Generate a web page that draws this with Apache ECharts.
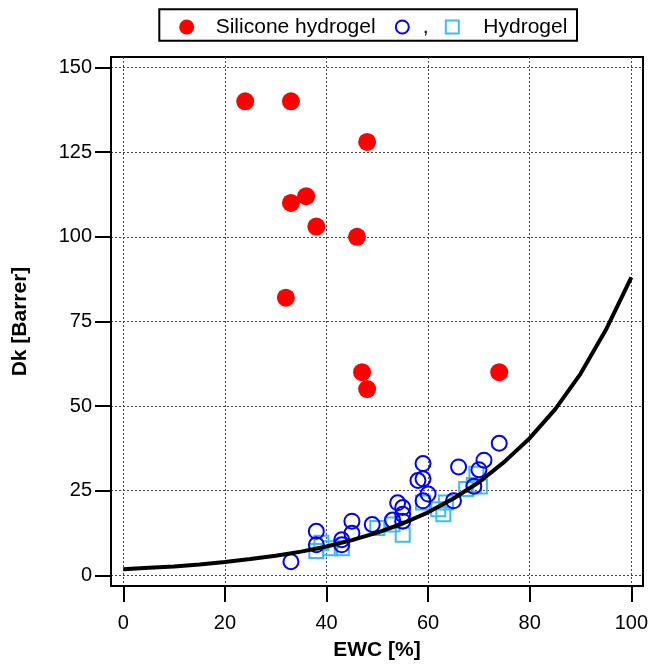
<!DOCTYPE html>
<html>
<head>
<meta charset="utf-8">
<script src="https://cdn.jsdelivr.net/npm/echarts@6/dist/echarts.min.js"></script>
<style>
html, body { margin: 0; padding: 0; background: #fff; }
#chart { width: 651px; height: 665px; }
</style>
</head>
<body>
<div id="chart"></div>
<script>
// tick labels
const ewcTicks = [0, 20, 40, 60, 80, 100];
const dkTicks = [0, 25, 50, 75, 100, 125, 150];

// silicone hydrogel lenses (filled red)
const siliconeEwc = [24, 33, 48, 36, 33, 38, 46, 32, 47, 48, 74];
const siliconeDk = [140, 140, 128, 112, 110, 103, 100, 82, 60, 55, 60];

// hydrogel lenses, open circles
const circleEwc = [33, 38, 38, 43, 43, 45, 45, 49, 53, 54, 55, 55, 55, 58, 59, 59, 60, 59, 65, 66, 69, 70, 71, 74];
const circleDk = [4, 13, 9, 10.5, 9, 16, 12.4, 15, 16.3, 21.4, 20, 18, 16, 28, 33, 28.5, 24, 22, 22, 32, 26.3, 31.2, 34, 39];

// hydrogel lenses, open squares
const squareEwc = [38, 39, 40.7, 43, 50, 53, 55, 59, 62, 63, 63.5, 67.5, 69, 69.5, 70.2];
const squareDk = [7.2, 9.6, 8, 8, 14, 15, 12, 21.5, 19.5, 18, 21.5, 25.5, 26.7, 30, 26.2];

// fitted curve
const curveEwc = [0, 5, 10, 15, 20, 25, 30, 35, 40, 45, 50, 55, 60, 65, 70, 75, 80, 85, 90, 95, 100];
const curveDk = [1.8, 2.2, 2.6, 3.2, 3.9, 4.8, 5.8, 7.0, 8.5, 10.4, 12.6, 15.3, 18.6, 22.7, 27.5, 33.5, 40.5, 49, 59.5, 72.5, 88];

const pairs = (xs, ys) => xs.map((x, i) => [x, ys[i]]);

const font = 'Liberation Sans, Arial, sans-serif';
const legendText = { fontFamily: font, fontSize: 21, color: '#000' };
const gridLine = { show: true, lineStyle: { color: '#444', width: 1, type: [2, 2] } };

const chart = echarts.init(document.getElementById('chart'));

chart.setOption({
    animation: false,
    backgroundColor: '#fff',
    grid: {
        left: 111, right: 8, top: 57, bottom: 79,
        show: true, borderColor: '#000', borderWidth: 2,
        outerBoundsMode: 'none'
    },
    legend: [
        {
            data: ['Silicone hydrogel'], left: 179.2, top: 16.5, padding: 0,
            itemWidth: 48, itemHeight: 15, textStyle: legendText
        },
        {
            data: ['Hydrogel (circles)'], left: 394.8, top: 16.5, padding: 0,
            itemWidth: 31, itemHeight: 13, textStyle: legendText,
            itemStyle: { borderWidth: 2 },
            formatter: () => ','
        },
        {
            data: ['Hydrogel'], left: 444.8, top: 16.5, padding: 0,
            itemWidth: 13, itemHeight: 13,
            textStyle: Object.assign({ padding: [0, 0, 0, 19.5] }, legendText),
            itemStyle: { borderWidth: 2 }
        }
    ],
    graphic: [{
        type: 'rect',
        shape: { x: 159.3, y: 9.3, width: 417.7, height: 31.4 },
        style: { fill: 'none', stroke: '#000', lineWidth: 2 },
        silent: true
    }],
    xAxis: {
        type: 'value',
        min: -2.42, max: 102.3,
        name: 'EWC [%]',
        nameLocation: 'middle',
        nameGap: 54,
        nameTextStyle: { fontFamily: font, fontSize: 21, fontWeight: 'bold', color: '#000' },
        axisLine: { show: true, onZero: false, lineStyle: { color: '#000', width: 2 } },
        axisTick: { show: true, inside: false, length: 16, customValues: ewcTicks, lineStyle: { color: '#000', width: 2 } },
        axisLabel: { customValues: ewcTicks, margin: 27, fontFamily: font, fontSize: 20, color: '#000' },
        splitLine: gridLine
    },
    yAxis: {
        type: 'value',
        min: -3.16, max: 153.1,
        name: 'Dk [Barrer]',
        nameLocation: 'middle',
        nameGap: 80,
        nameTextStyle: { fontFamily: font, fontSize: 21, fontWeight: 'bold', color: '#000' },
        axisLine: { show: true, onZero: false, lineStyle: { color: '#000', width: 2 } },
        axisTick: { show: true, inside: false, length: 16, customValues: dkTicks, lineStyle: { color: '#000', width: 2 } },
        axisLabel: { customValues: dkTicks, margin: 19, fontFamily: font, fontSize: 20, color: '#000' },
        splitLine: gridLine
    },
    series: [
        {
            name: 'Hydrogel',
            type: 'scatter',
            symbol: 'rect',
            symbolSize: 14,
            itemStyle: { color: 'rgba(0,0,0,0)', borderColor: '#3dbcf4', borderWidth: 2, opacity: 1 },
            data: pairs(squareEwc, squareDk)
        },
        {
            name: 'fit',
            type: 'line',
            showSymbol: false,
            symbol: 'none',
            lineStyle: { color: '#000', width: 4 },
            data: pairs(curveEwc, curveDk)
        },
        {
            name: 'Hydrogel (circles)',
            type: 'scatter',
            symbol: 'circle',
            symbolSize: 15,
            itemStyle: { color: 'rgba(0,0,0,0)', borderColor: '#0000ff', borderWidth: 2, opacity: 1 },
            data: pairs(circleEwc, circleDk)
        },
        {
            name: 'Silicone hydrogel',
            type: 'scatter',
            symbol: 'circle',
            symbolSize: 18,
            itemStyle: { color: '#ff0000', opacity: 1 },
            data: pairs(siliconeEwc, siliconeDk)
        }
    ]
});
</script>
</body>
</html>
